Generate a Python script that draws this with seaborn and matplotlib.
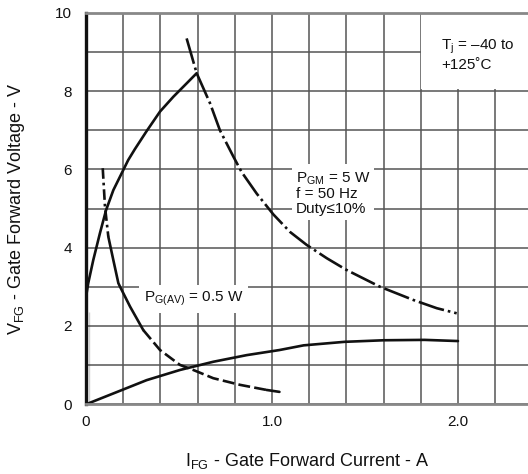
import matplotlib
matplotlib.use("Agg")
import matplotlib.pyplot as plt
from matplotlib.patches import Rectangle
from matplotlib.ticker import MultipleLocator, FixedLocator
import seaborn as sns

# curves (I in A, V in V)
rise_I = [0.004, 0.012, 0.039, 0.075, 0.108, 0.147, 0.20, 0.227, 0.263, 0.326, 0.398, 0.47, 0.541, 0.595]
rise_V = [2.85, 3.09, 3.68, 4.37, 4.96, 5.47, 5.98, 6.24, 6.52, 6.98, 7.48, 7.86, 8.20, 8.46]

pgm_I = [0.541, 0.595, 0.667, 0.72, 0.792, 0.837, 0.918, 1.007, 1.097, 1.186, 1.294, 1.40, 1.58, 1.76, 1.886, 1.993]
pgm_V = [9.35, 8.46, 7.69, 7.00, 6.33, 5.93, 5.38, 4.85, 4.40, 4.07, 3.73, 3.43, 3.00, 2.66, 2.45, 2.32]

pgav_I = [0.09, 0.102, 0.12, 0.147, 0.174, 0.183, 0.237, 0.308, 0.398, 0.505, 0.577, 0.684, 0.828, 0.97, 1.04]
pgav_V = [6.03, 5.05, 4.28, 3.68, 3.09, 3.00, 2.49, 1.89, 1.38, 1.00, 0.87, 0.66, 0.49, 0.36, 0.31]

low_I = [0.015, 0.147, 0.326, 0.505, 0.684, 0.864, 1.04, 1.17, 1.39, 1.60, 1.82, 2.00]
low_V = [0.02, 0.27, 0.61, 0.87, 1.08, 1.25, 1.38, 1.50, 1.59, 1.63, 1.64, 1.61]

vert_I = [0.015, 0.015]
vert_V = [0.0, 2.35]

x_ticks = [0, 1.0, 2.0]
x_labels = ["0", "1.0", "2.0"]
y_ticks = [0, 2, 4, 6, 8, 10]
y_labels = ["0", "2", "4", "6", "8", "10"]

sns.set_theme(style="white")
plt.rcParams["font.family"] = ["Liberation Sans", "DejaVu Sans"]
plt.rcParams["mathtext.fontset"] = "custom"
plt.rcParams["mathtext.rm"] = "Liberation Sans"
plt.rcParams["lines.solid_joinstyle"] = "round"
plt.rcParams["lines.solid_capstyle"] = "round"

fig = plt.figure(figsize=(5.28, 4.74), dpi=100)
ax = fig.add_axes([86 / 528, 70 / 474, 1 - 86 / 528, 391 / 474])

lw = 1.9
k = "#111111"

sns.lineplot(x=rise_I, y=rise_V, sort=False, color=k, linewidth=lw, ax=ax)
sns.lineplot(x=pgm_I, y=pgm_V, sort=False, color=k, linewidth=lw,
             linestyle=(0, (10, 1.5, 1.0, 1.5)), ax=ax)
# PG(AV) curve: dash-dot top, solid middle, dashed tail, solid end
sns.lineplot(x=pgav_I[:3], y=pgav_V[:3], sort=False, color=k, linewidth=lw,
             linestyle=(0, (4, 1.5, 1, 1.5)), ax=ax)
sns.lineplot(x=pgav_I[2:8], y=pgav_V[2:8], sort=False, color=k, linewidth=lw, ax=ax)
sns.lineplot(x=pgav_I[7:14], y=pgav_V[7:14], sort=False, color=k, linewidth=lw,
             linestyle=(0, (4.5, 1.6)), ax=ax)
sns.lineplot(x=pgav_I[13:], y=pgav_V[13:], sort=False, color=k, linewidth=lw, ax=ax)
sns.lineplot(x=low_I, y=low_V, sort=False, color=k, linewidth=lw, ax=ax)
sns.lineplot(x=vert_I, y=vert_V, sort=False, color=k, linewidth=2.6, ax=ax)

ax.set_xlim(0, 442 / 186)
ax.set_ylim(0, 10)
ax.xaxis.set_major_locator(FixedLocator(x_ticks))
ax.set_xticklabels(x_labels)
ax.xaxis.set_minor_locator(MultipleLocator(0.2))
ax.yaxis.set_major_locator(FixedLocator(y_ticks))
ax.set_yticklabels(y_labels)
ax.yaxis.set_minor_locator(MultipleLocator(1))
ax.grid(True, which="both", color="#555555", linewidth=1.1)
ax.set_axisbelow(True)
ax.tick_params(which="both", length=0, labelsize=11, colors="#111111")
ax.tick_params(axis="x", pad=8)
ax.tick_params(axis="y", pad=10)

for s in ["top", "bottom"]:
    ax.spines[s].set_color("#888888")
    ax.spines[s].set_linewidth(2)
ax.spines["left"].set_color("#111111")
ax.spines["left"].set_linewidth(2.4)
ax.spines["right"].set_visible(False)

# white panel behind the temperature note
ax.add_patch(Rectangle((1.8, 8.05), 1.0, 2.0, facecolor="white",
                       edgecolor="none", zorder=1.5))

ax.text(1.91, 9.13, r"T$_{\rm j}$ = –40 to", fontsize=11, va="center", color=k, zorder=5)
ax.text(1.91, 8.67, "+125˚C", fontsize=11, va="center", color=k, zorder=5)

ax.text(1.13, 5.4, "P$_{\\rm GM}$ = 5 W\nf = 50 Hz\nDuty≤10%", fontsize=11,
        va="center", color=k, linespacing=1.05, zorder=5,
        bbox=dict(boxstyle="square,pad=0.25", facecolor="white", edgecolor="none"))

ax.text(0.31, 2.69, "P$_{\\rm G(AV)}$ = 0.5 W", fontsize=11, va="center", color=k, zorder=5,
        bbox=dict(boxstyle="square,pad=0.3", facecolor="white", edgecolor="none"))

ax.set_xlabel(r"I$_{\rm FG}$ - Gate Forward Current - A", fontsize=13, labelpad=16, color=k)
ax.set_ylabel(r"V$_{\rm FG}$ - Gate Forward Voltage - V", fontsize=13, labelpad=20, color=k)

fig.savefig("out.png", dpi=100)
